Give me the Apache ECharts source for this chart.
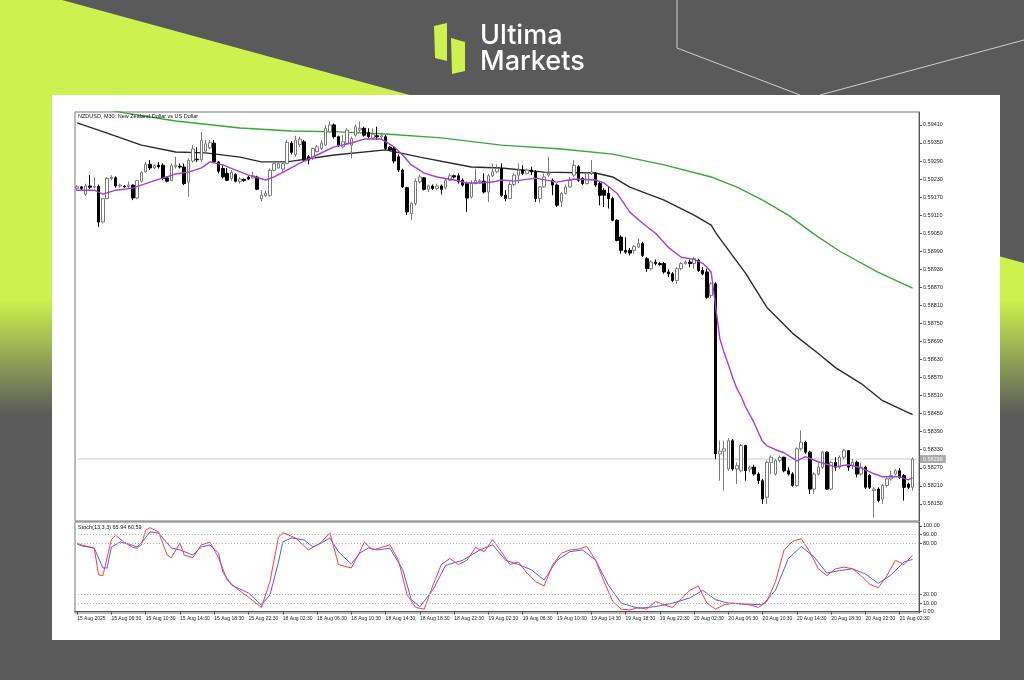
<!DOCTYPE html>
<html><head><meta charset="utf-8">
<script src="https://cdn.jsdelivr.net/npm/echarts@6/dist/echarts.min.js"></script>
<style>html,body{margin:0;padding:0;background:#5a5a5a}#c{width:1024px;height:680px}</style>
</head><body><div id="c"></div>
<script>
const tickLabels = ['15 Aug 2025','15 Aug 06:30','15 Aug 10:30','15 Aug 14:30','15 Aug 18:30','15 Aug 22:30',
 '18 Aug 02:30','18 Aug 06:30','18 Aug 10:30','18 Aug 14:30','18 Aug 18:30','18 Aug 22:30',
 '19 Aug 02:30','19 Aug 06:30','19 Aug 10:30','19 Aug 14:30','19 Aug 18:30','19 Aug 22:30',
 '20 Aug 02:30','20 Aug 06:30','20 Aug 10:30','20 Aug 14:30','20 Aug 18:30','20 Aug 22:30','21 Aug 02:30'];
const priceTicks = [0.58150,0.58210,0.58270,0.58330,0.58390,0.58450,0.58510,0.58570,0.58630,0.58690,0.58750,
 0.58810,0.58870,0.58930,0.58990,0.59050,0.59110,0.59170,0.59230,0.59290,0.59350,0.59410];
const stochTicks = [0,10,20,80,90,100];
const stochLevels = [10,20,80,90];
// [open, close, low, high]
const candles = [
[0.59199,0.59204,0.59190,0.59210],[0.59204,0.59199,0.59193,0.59207],[0.59179,0.59207,0.59174,0.59215],[0.59207,0.59203,0.59196,0.59243],
[0.59203,0.59206,0.59199,0.59237],[0.59206,0.59087,0.59071,0.59212],[0.59087,0.59165,0.59082,0.59167],[0.59165,0.59232,0.59163,0.59237],
[0.59232,0.59236,0.59226,0.59243],[0.59234,0.59207,0.59201,0.59239],[0.59207,0.59210,0.59201,0.59215],[0.59206,0.59204,0.59201,0.59210],
[0.59205,0.59210,0.59199,0.59221],[0.59210,0.59167,0.59160,0.59212],[0.59167,0.59225,0.59163,0.59227],[0.59223,0.59252,0.59219,0.59256],
[0.59254,0.59279,0.59252,0.59287],[0.59279,0.59267,0.59260,0.59293],[0.59267,0.59275,0.59263,0.59279],[0.59276,0.59271,0.59265,0.59287],
[0.59276,0.59232,0.59226,0.59282],[0.59234,0.59223,0.59219,0.59239],[0.59225,0.59274,0.59223,0.59282],[0.59271,0.59276,0.59265,0.59304],
[0.59273,0.59270,0.59265,0.59282],[0.59270,0.59215,0.59210,0.59282],[0.59221,0.59292,0.59171,0.59299],[0.59290,0.59330,0.59285,0.59343],
[0.59296,0.59294,0.59287,0.59336],[0.59294,0.59359,0.59287,0.59387],[0.59323,0.59347,0.59321,0.59360],[0.59334,0.59351,0.59330,0.59360],
[0.59349,0.59287,0.59282,0.59360],[0.59287,0.59256,0.59249,0.59290],[0.59265,0.59237,0.59232,0.59276],[0.59249,0.59226,0.59223,0.59267],
[0.59232,0.59252,0.59225,0.59260],[0.59245,0.59223,0.59219,0.59249],[0.59221,0.59230,0.59215,0.59237],[0.59229,0.59225,0.59221,0.59232],
[0.59236,0.59230,0.59227,0.59241],[0.59234,0.59241,0.59232,0.59254],[0.59237,0.59196,0.59193,0.59241],[0.59165,0.59176,0.59156,0.59193],
[0.59174,0.59183,0.59171,0.59190],[0.59176,0.59259,0.59171,0.59265],[0.59259,0.59281,0.59256,0.59287],[0.59267,0.59281,0.59265,0.59285],
[0.59263,0.59281,0.59254,0.59287],[0.59282,0.59352,0.59279,0.59360],[0.59349,0.59319,0.59312,0.59356],[0.59312,0.59360,0.59304,0.59374],
[0.59345,0.59363,0.59337,0.59371],[0.59354,0.59293,0.59287,0.59360],[0.59304,0.59293,0.59279,0.59310],[0.59299,0.59332,0.59293,0.59334],
[0.59321,0.59337,0.59319,0.59343],[0.59332,0.59349,0.59326,0.59360],[0.59343,0.59399,0.59341,0.59410],[0.59387,0.59410,0.59385,0.59421],
[0.59410,0.59371,0.59365,0.59415],[0.59371,0.59343,0.59337,0.59374],[0.59337,0.59354,0.59332,0.59376],[0.59349,0.59393,0.59343,0.59399],
[0.59343,0.59365,0.59299,0.59371],[0.59376,0.59404,0.59371,0.59412],[0.59393,0.59399,0.59387,0.59421],[0.59399,0.59376,0.59371,0.59404],
[0.59385,0.59371,0.59365,0.59399],[0.59367,0.59379,0.59363,0.59399],[0.59374,0.59370,0.59360,0.59404],[0.59370,0.59374,0.59363,0.59382],
[0.59371,0.59332,0.59326,0.59376],[0.59336,0.59327,0.59323,0.59341],[0.59332,0.59290,0.59282,0.59337],[0.59304,0.59260,0.59254,0.59312],
[0.59260,0.59204,0.59201,0.59265],[0.59201,0.59121,0.59110,0.59204],[0.59115,0.59149,0.59093,0.59152],[0.59149,0.59223,0.59143,0.59232],
[0.59221,0.59237,0.59215,0.59245],[0.59234,0.59196,0.59192,0.59237],[0.59196,0.59207,0.59187,0.59212],[0.59207,0.59199,0.59194,0.59212],
[0.59199,0.59207,0.59194,0.59215],[0.59207,0.59196,0.59179,0.59212],[0.59201,0.59226,0.59196,0.59232],[0.59226,0.59241,0.59223,0.59249],
[0.59241,0.59237,0.59232,0.59245],[0.59241,0.59221,0.59215,0.59249],[0.59226,0.59210,0.59205,0.59232],[0.59215,0.59167,0.59121,0.59221],
[0.59171,0.59215,0.59165,0.59226],[0.59215,0.59225,0.59212,0.59265],[0.59221,0.59224,0.59216,0.59230],[0.59223,0.59187,0.59182,0.59249],
[0.59187,0.59241,0.59154,0.59247],[0.59241,0.59254,0.59236,0.59282],[0.59254,0.59265,0.59249,0.59279],[0.59265,0.59176,0.59171,0.59282],
[0.59176,0.59165,0.59156,0.59193],[0.59165,0.59212,0.59163,0.59221],[0.59212,0.59243,0.59207,0.59249],[0.59243,0.59260,0.59215,0.59282],
[0.59260,0.59249,0.59243,0.59276],[0.59249,0.59260,0.59245,0.59265],[0.59260,0.59254,0.59243,0.59271],[0.59254,0.59165,0.59154,0.59260],
[0.59165,0.59204,0.59149,0.59207],[0.59204,0.59237,0.59201,0.59249],[0.59243,0.59249,0.59237,0.59304],[0.59226,0.59210,0.59176,0.59232],
[0.59210,0.59143,0.59137,0.59215],[0.59154,0.59182,0.59137,0.59187],[0.59182,0.59204,0.59179,0.59212],[0.59204,0.59226,0.59201,0.59237],
[0.59243,0.59276,0.59237,0.59293],[0.59271,0.59226,0.59221,0.59276],[0.59232,0.59215,0.59210,0.59237],[0.59215,0.59249,0.59212,0.59254],
[0.59249,0.59254,0.59243,0.59293],[0.59249,0.59210,0.59204,0.59254],[0.59215,0.59176,0.59143,0.59221],[0.59193,0.59176,0.59137,0.59199],
[0.59182,0.59165,0.59132,0.59204],[0.59165,0.59093,0.59090,0.59171],[0.59093,0.59026,0.59023,0.59096],[0.59037,0.58993,0.58982,0.59043],
[0.58993,0.58987,0.58982,0.59037],[0.58993,0.58984,0.58976,0.59001],[0.58993,0.59006,0.58982,0.59010],[0.59004,0.59015,0.59001,0.59032],
[0.59015,0.58976,0.58971,0.59021],[0.58965,0.58932,0.58921,0.58971],[0.58932,0.58954,0.58926,0.58960],[0.58954,0.58949,0.58943,0.58963],
[0.58949,0.58946,0.58941,0.58954],[0.58949,0.58921,0.58915,0.58954],[0.58921,0.58915,0.58904,0.58930],[0.58915,0.58893,0.58887,0.58921],
[0.58893,0.58932,0.58882,0.58937],[0.58932,0.58949,0.58926,0.58954],[0.58949,0.58954,0.58945,0.58960],[0.58954,0.58949,0.58937,0.58962],
[0.58949,0.58965,0.58932,0.58971],[0.58960,0.58926,0.58921,0.58965],[0.58926,0.58915,0.58910,0.58937],[0.58921,0.58837,0.58832,0.58932],
[0.58843,0.58882,0.58834,0.58887],[0.58882,0.58316,0.58299,0.58887],[0.58316,0.58325,0.58227,0.58360],[0.58325,0.58333,0.58194,0.58360],
[0.58266,0.58360,0.58260,0.58369],[0.58360,0.58266,0.58260,0.58366],[0.58266,0.58277,0.58216,0.58288],[0.58260,0.58344,0.58255,0.58349],
[0.58344,0.58260,0.58227,0.58347],[0.58266,0.58272,0.58255,0.58277],[0.58272,0.58249,0.58244,0.58280],[0.58249,0.58227,0.58216,0.58255],
[0.58227,0.58166,0.58150,0.58233],[0.58172,0.58288,0.58150,0.58294],[0.58288,0.58305,0.58249,0.58311],[0.58249,0.58294,0.58244,0.58299],
[0.58294,0.58305,0.58288,0.58311],[0.58305,0.58260,0.58255,0.58307],[0.58260,0.58249,0.58244,0.58272],[0.58249,0.58211,0.58207,0.58255],
[0.58211,0.58333,0.58207,0.58338],[0.58333,0.58355,0.58327,0.58394],[0.58355,0.58322,0.58316,0.58360],[0.58322,0.58199,0.58183,0.58327],
[0.58199,0.58249,0.58183,0.58255],[0.58249,0.58272,0.58244,0.58288],[0.58272,0.58322,0.58266,0.58327],[0.58322,0.58199,0.58196,0.58325],
[0.58199,0.58288,0.58196,0.58294],[0.58288,0.58272,0.58260,0.58305],[0.58272,0.58305,0.58266,0.58311],[0.58305,0.58327,0.58299,0.58333],
[0.58327,0.58272,0.58260,0.58329],[0.58277,0.58288,0.58266,0.58299],[0.58288,0.58249,0.58238,0.58294],[0.58249,0.58272,0.58244,0.58288],
[0.58272,0.58205,0.58199,0.58277],[0.58244,0.58205,0.58199,0.58249],[0.58194,0.58199,0.58105,0.58205],[0.58199,0.58161,0.58155,0.58205],
[0.58166,0.58211,0.58150,0.58216],[0.58211,0.58233,0.58205,0.58238],[0.58233,0.58244,0.58227,0.58260],[0.58249,0.58260,0.58244,0.58266],
[0.58260,0.58238,0.58233,0.58269],[0.58244,0.58205,0.58161,0.58249],[0.58216,0.58205,0.58199,0.58221],[0.58205,0.58299,0.58194,0.58305]
];
// moving averages: [bar index, price]
const maFast = [[0,.59193],[4,.59193],[6,.59180],[9,.59193],[13,.59200],[17,.59220],[20,.59233],[23,.59247],[26,.59253],[29,.59267],
 [31,.59287],[34,.59277],[37,.59260],[40,.59243],[44,.59227],[46,.59237],[49,.59260],[52,.59283],[56,.59310],[60,.59337],[64,.59350],
 [67,.59363],[71,.59363],[74,.59337],[76,.59310],[78,.59277],[81,.59250],[84,.59237],[88,.59227],[91,.59217],[94,.59217],[97,.59220],
 [99,.59227],[102,.59223],[107,.59233],[112,.59220],[116,.59230],[121,.59227],[123,.59217],[126,.59183],[129,.59120],[132,.59083],
 [135,.59050],[138,.59003],[141,.58970],[144,.58963],[146,.58950],[147,.58937],[148,.58920],[149,.58810],[150,.58700],[151,.58653],
 [152,.58613],[153,.58570],[154,.58533],[155,.58507],[156,.58473],[157,.58447],[158,.58420],[159,.58387],[160,.58357],[161,.58343],
 [162,.58337],[163,.58330],[165,.58320],[168,.58293],[170,.58307],[173,.58290],[177,.58273],[180,.58280],[183,.58270],[186,.58250],
 [188,.58240],[192,.58240],[194,.58230],[195,.58237]];
const maMid = [[0,.59417],[7,.59383],[15,.59343],[23,.59320],[30,.59317],[38,.59303],[43,.59287],[49,.59287],[60,.59310],[72,.59327],
 [80,.59303],[92,.59270],[99,.59267],[109,.59253],[121,.59250],[125,.59237],[129,.59203],[137,.59160],[144,.59110],[148,.59077],
 [149,.59053],[150,.59033],[156,.58917],[161,.58803],[167,.58717],[173,.58650],[177,.58603],[183,.58550],[188,.58493],[195,.58447]];
const maSlow = [[0,.59473],[5,.59467],[11,.59450],[23,.59423],[38,.59400],[50,.59390],[61,.59387],[72,.59380],[85,.59367],[99,.59343],
 [113,.59330],[125,.59313],[137,.59277],[148,.59237],[154,.59203],[160,.59160],[166,.59110],[172,.59047],[178,.58990],[187,.58920],[195,.58867]];
// stochastic: [bar index, value]
const stochMain = [[0,80],[1,78],[4,74],[5,43],[6,42],[8,84],[9,89],[11,81],[13,75],[14,74],[15,78],[16,95],[17,98],[19,93],[21,66],[22,63],
 [24,80],[25,66],[27,63],[29,78],[31,81],[33,63],[35,37],[37,28],[40,17],[43,5],[45,35],[47,87],[48,92],[51,86],[54,72],[57,81],[59,92],
 [61,55],[64,51],[66,70],[67,81],[69,72],[71,75],[73,78],[75,60],[77,20],[79,5],[81,3],[83,30],[85,55],[87,62],[89,55],[91,60],[93,75],
 [95,70],[97,84],[99,70],[101,55],[103,58],[105,45],[107,35],[109,30],[111,55],[113,68],[115,72],[117,73],[119,76],[121,60],[123,35],
 [125,12],[127,3],[129,2],[131,5],[133,3],[135,12],[137,8],[139,5],[141,15],[143,25],[145,30],[147,10],[149,3],[151,8],[153,10],[155,9],
 [157,8],[159,5],[161,12],[163,35],[165,72],[167,82],[169,85],[171,70],[173,50],[175,42],[177,50],[179,52],[181,50],[183,42],[185,32],
 [187,28],[189,42],[191,60],[193,55],[195,66]];
const stochSignal = [[0,79],[1,76.7],[4,74.3],[6,51],[7,51],[8,75.5],[10,81.3],[12,79],[14,75.5],[15,80.2],[17,93],[19,91.8],[20,86],
 [22,74.3],[24,72],[27,66.2],[29,75.5],[31,77.8],[33,68.5],[34,46.3],[36,31.2],[40,21.8],[43,7.8],[45,19.5],[47,58],[48,81.3],[50,86],
 [53,83.7],[55,75.5],[57,80.2],[59,86],[61,69.7],[64,55.7],[66,68.5],[68,74.3],[70,72],[73,74],[76,49],[78,14],[80,6],[83,25],[86,54],
 [90,60],[94,72],[97,78],[100,60],[103,55],[106,49],[109,37],[112,60],[115,70],[118,72],[121,60],[124,31],[127,10],[131,4],[135,6],
 [139,10],[143,16],[146,25],[149,14],[152,10],[156,9],[160,8],[163,25],[166,62],[169,76],[172,64],[175,45],[178,48],[181,50],[184,44],
 [187,33],[190,43],[193,58],[195,61]];

const chartTitle = 'NZDUSD, M30: New Zealand Dollar vs US Dollar';
const stochTitle = 'Stoch(13,3,3) 65.94 60.59';

const cats = [];
for (let i = 0; i <= candles.length; i++) cats.push(String(i));
const lastClose = candles[candles.length - 1][1];
const priceLine = [[0, lastClose], [candles.length, lastClose]];
const FONT = 'Liberation Sans';
const LIME = '#cdf24f', GRAY = '#5a5a5a';

const chart = echarts.init(document.getElementById('c'), null, {renderer: 'canvas'});
chart.setOption({
  animation: false,
  backgroundColor: GRAY,
  graphic: [
    {type: 'polygon', z: -20, silent: true, shape: {points: [[62,0],[1024,263],[1024,680],[0,680],[0,0]]},
     style: {fill: {type: 'linear', x: 0, y: 0, x2: 0, y2: 680, global: true,
       colorStops: [{offset: 0, color: LIME}, {offset: 0.44, color: LIME}, {offset: 0.61, color: GRAY}, {offset: 1, color: GRAY}]}}},
    {type: 'polyline', z: -19, silent: true, shape: {points: [[677,0],[677,48],[800,95]]}, style: {stroke: '#cfcfcf', lineWidth: 1, fill: null}},
    {type: 'polyline', z: -19, silent: true, shape: {points: [[1024,40],[820,95]]}, style: {stroke: '#cfcfcf', lineWidth: 1, fill: null}},
    {type: 'rect', z: -18, silent: true, shape: {x: 52, y: 95, width: 948, height: 545}, style: {fill: '#ffffff'}},
    {type: 'polygon', z: -17, silent: true, shape: {points: [[434,26],[447,23],[447,61],[435,58]]}, style: {fill: LIME}},
    {type: 'polygon', z: -17, silent: true, shape: {points: [[451,38],[465,42],[465,71],[452,74]]}, style: {fill: LIME}},
    {type: 'text', z: -17, silent: true, style: {text: 'Ultima', x: 480, y: 36, fill: '#ffffff', fontFamily: 'Inter', fontWeight: 500, fontSize: 27, verticalAlign: 'middle'}},
    {type: 'text', z: -17, silent: true, style: {text: 'Markets', x: 480, y: 62, fill: '#ffffff', fontFamily: 'Inter', fontWeight: 500, fontSize: 27, verticalAlign: 'middle'}}
  ],
  title: [
    {text: chartTitle, left: 78, top: 113, padding: 0, textStyle: {fontSize: 5.5, fontWeight: 'normal', color: '#111', fontFamily: FONT}},
    {text: stochTitle, left: 78, top: 524, padding: 0, textStyle: {fontSize: 5.5, fontWeight: 'normal', color: '#111', fontFamily: FONT}}
  ],
  grid: [
    {left: 75, top: 112, width: 844, height: 409, show: true, borderColor: '#777', borderWidth: 1, backgroundColor: 'transparent'},
    {left: 75, top: 522, width: 844, height: 91, show: true, borderColor: '#777', borderWidth: 1, backgroundColor: 'transparent'}
  ],
  xAxis: [
    {type: 'category', gridIndex: 0, data: cats, boundaryGap: true, axisLine: {show: false}, axisTick: {show: false}, axisLabel: {show: false}, splitLine: {show: false}},
    {type: 'category', gridIndex: 1, data: cats, boundaryGap: true,
     axisLine: {show: true, lineStyle: {color: '#555'}},
     axisTick: {show: true, alignWithLabel: true, length: 3, interval: (i) => i % 8 === 0, lineStyle: {color: '#555'}},
     axisLabel: {show: true, interval: (i) => i % 8 === 0, align: 'left', margin: 3, fontSize: 5, color: '#222', fontFamily: FONT,
       formatter: (v, i) => (i % 8 === 0 && tickLabels[i / 8]) ? tickLabels[i / 8] : ''},
     splitLine: {show: false}}
  ],
  yAxis: [
    {type: 'value', gridIndex: 0, position: 'right', min: 0.58093, max: 0.59453, scale: true,
     axisLine: {show: true, lineStyle: {color: '#555'}},
     axisTick: {show: true, length: 3, customValues: priceTicks, lineStyle: {color: '#555'}},
     axisLabel: {show: true, customValues: priceTicks, margin: 4, fontSize: 5.5, color: '#222', fontFamily: FONT, formatter: (v) => v.toFixed(5)},
     splitLine: {show: false}},
    {type: 'value', gridIndex: 1, position: 'right', min: -1.5, max: 104.6,
     axisLine: {show: true, lineStyle: {color: '#555'}},
     axisTick: {show: true, length: 3, customValues: stochTicks, lineStyle: {color: '#555'}},
     axisLabel: {show: true, customValues: stochTicks, margin: 4, fontSize: 5.5, color: '#222', fontFamily: FONT, formatter: (v) => v.toFixed(2)},
     splitLine: {show: false}}
  ],
  series: [
    {type: 'line', xAxisIndex: 0, yAxisIndex: 0, data: priceLine, showSymbol: false, symbol: 'none', z: 1, silent: true,
     lineStyle: {color: '#c8c8c8', width: 1},
     endLabel: {show: true, formatter: () => lastClose.toFixed(5), backgroundColor: '#a9a9a9', color: '#f4f4f4', fontSize: 5.5, fontFamily: FONT, padding: [1, 3], distance: 3}},
    {type: 'candlestick', xAxisIndex: 0, yAxisIndex: 0, data: candles, barWidth: 3, z: 3,
     itemStyle: {color: '#ffffff', color0: '#000000', borderColor: '#7a7a7a', borderColor0: '#000000', borderWidth: 1}},
    {type: 'line', xAxisIndex: 0, yAxisIndex: 0, data: maSlow, showSymbol: false, symbol: 'none', z: 3, lineStyle: {color: '#37a836', width: 1.4}},
    {type: 'line', xAxisIndex: 0, yAxisIndex: 0, data: maMid, showSymbol: false, symbol: 'none', z: 3, lineStyle: {color: '#2a2a2a', width: 1.4}},
    {type: 'line', xAxisIndex: 0, yAxisIndex: 0, data: maFast, showSymbol: false, symbol: 'none', z: 4, lineStyle: {color: '#a43ddd', width: 1.4}},
    {type: 'line', xAxisIndex: 1, yAxisIndex: 1, data: stochSignal, showSymbol: false, symbol: 'none', z: 3, lineStyle: {color: '#4a5cff', width: 1}},
    {type: 'line', xAxisIndex: 1, yAxisIndex: 1, data: stochMain, showSymbol: false, symbol: 'none', z: 4, lineStyle: {color: '#ff3b3b', width: 1},
     markLine: {silent: true, symbol: ['none', 'none'], animation: false, label: {show: false},
       lineStyle: {color: '#b0b0b0', type: [1, 2], width: 1}, data: stochLevels.map(v => ({yAxis: v}))}}
  ]
});
</script></body></html>
